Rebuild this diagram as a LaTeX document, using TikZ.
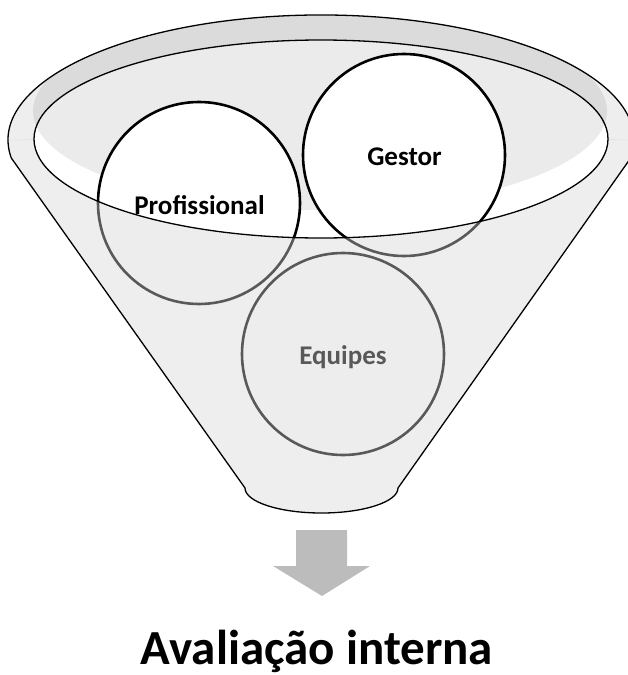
\documentclass[tikz,border=0pt]{standalone}
\usepackage{fontspec}
\setmainfont{Carlito}
\definecolor{ringgray}{RGB}{238,238,238}
\definecolor{frontgray}{RGB}{214,214,214}
\definecolor{arrowgray}{RGB}{188,188,188}
\begin{document}
\begin{tikzpicture}[x=1pt,y=-1pt,
  rim/.style={draw=black,line width=1.3pt,line join=round},
  bubble/.style={circle,draw=black,line width=2.6pt,fill=white,minimum size=202pt,inner sep=0pt},
  tag/.style={font=\fontsize{27}{30}\selectfont\bfseries,anchor=base,inner sep=0pt},
]
\useasboundingbox (0,0) rectangle (628,675);

% back rim of the funnel mouth
\fill[ringgray] (8,140) arc[start angle=180,end angle=360,x radius=313,y radius=125] -- cycle;
% opening of the funnel
\fill[white] (321,139) ellipse[x radius=287,y radius=99];
% inner shading of the opening, kept inside the rim
\begin{scope}
  \clip (321,140) ellipse[x radius=313,y radius=125];
  \fill[black,fill opacity=0.08] (320,111) ellipse[x radius=287,y radius=99];
\end{scope}

% the three circles
\node[bubble] (gestor) at (404,155) {};
\node[bubble] (prof) at (199,203) {};
\node[bubble] (equipes) at (343,354) {};
\node[tag] (tgestor) at (404.5,165) {Gestor};
\node[tag] (tprof) at (199.5,214) {Profissional};
\node[tag] (tequipes) at (343,364) {Equipes};

% translucent front of the funnel body
\fill[frontgray,fill opacity=0.42]
  (34,139) arc[start angle=180,end angle=0,x radius=287,y radius=99]
  -- (634,140) arc[start angle=0,end angle=8.3,x radius=313,y radius=125]
  -- (398,488) arc[start angle=0,end angle=180,x radius=76.5,y radius=25]
  -- (11.3,158) arc[start angle=171.7,end angle=180,x radius=313,y radius=125]
  -- cycle;

% funnel outlines
\draw[rim] (11.3,158) arc[start angle=171.7,end angle=368.3,x radius=313,y radius=125]
  -- (398,488) arc[start angle=0,end angle=180,x radius=76.5,y radius=25] -- cycle;
\draw[rim] (321,139) ellipse[x radius=287,y radius=99];

% output arrow
\fill[arrowgray] (296,530) -- (347,530) -- (347,566) -- (370,566) -- (322,596)
  -- (273,566) -- (296,566) -- cycle;

\node[font=\fontsize{49}{56}\selectfont\bfseries,anchor=base,inner sep=0pt] (title) at (317,664) {Avaliação interna};
\end{tikzpicture}
\end{document}
